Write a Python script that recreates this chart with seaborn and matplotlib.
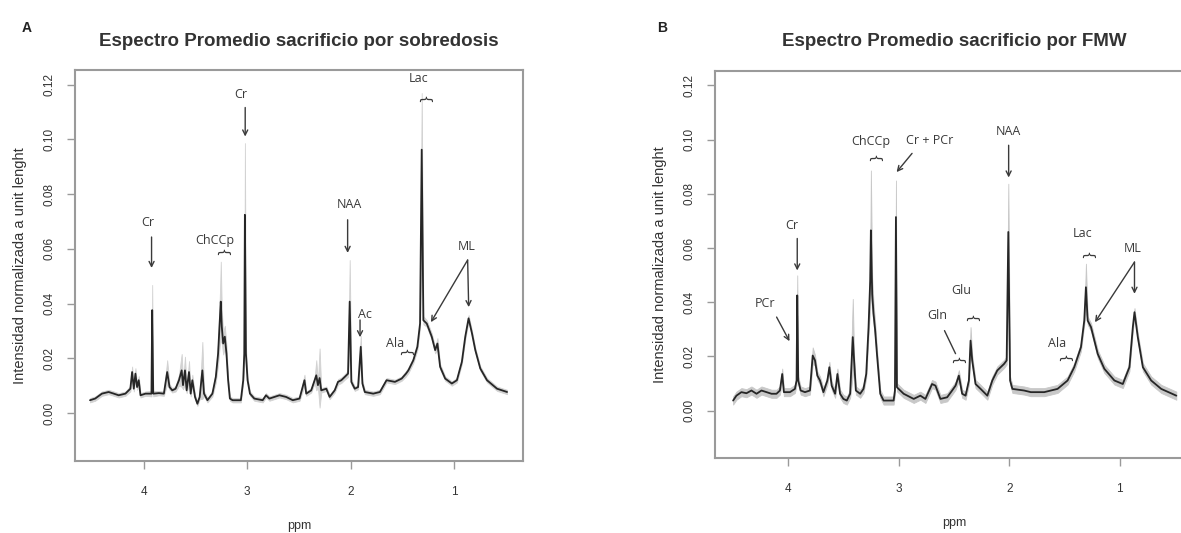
import numpy as np
import pandas as pd
import matplotlib
matplotlib.use("Agg")
import matplotlib.pyplot as plt
import seaborn as sns

sns.set_theme(style="white")
plt.rcParams["font.family"] = ["Liberation Sans", "DejaVu Sans"]

# ---- Panel A: mean spectrum, overdose sacrifice ----
ppm_a = [4.52, 4.47, 4.405, 4.34, 4.29, 4.243, 4.178, 4.13, 4.113, 4.097,
         4.081, 4.065, 4.049, 4.032, 3.984, 3.926, 3.919, 3.909, 3.854, 3.806,
         3.774, 3.751, 3.725, 3.693, 3.66, 3.634, 3.621, 3.602, 3.586, 3.563,
         3.547, 3.531, 3.505, 3.482, 3.46, 3.434, 3.418, 3.385, 3.337, 3.304,
         3.282, 3.262, 3.256, 3.246, 3.233, 3.217, 3.201, 3.185, 3.168, 3.142,
         3.062, 3.039, 3.029, 3.023, 3.013, 2.997, 2.974, 2.932, 2.851, 2.819,
         2.786, 2.689, 2.625, 2.56, 2.495, 2.447, 2.430, 2.382, 2.349, 2.333,
         2.317, 2.301, 2.285, 2.236, 2.204, 2.155, 2.123, 2.091, 2.058, 2.026,
         2.010, 1.994, 1.961, 1.929, 1.903, 1.887, 1.864, 1.783, 1.718, 1.654,
         1.573, 1.508, 1.466, 1.443, 1.395, 1.356, 1.330, 1.314, 1.298, 1.265,
         1.217, 1.184, 1.162, 1.136, 1.087, 1.023, 0.974, 0.926, 0.893, 0.861,
         0.828, 0.796, 0.748, 0.683, 0.586, 0.489]
mean_a = [.0047, .0053, .0071, .0077, .0071, .0065, .0071, .0089, .0150, .0089,
          .0144, .0095, .0120, .0065, .0071, .0071, .0376, .0071, .0073, .0071,
          .0150, .0095, .0083, .0089, .0120, .0156, .0102, .0156, .0083, .0150,
          .0071, .0120, .0059, .0034, .0059, .0156, .0071, .0047, .0071, .0132,
          .0217, .0364, .0407, .0315, .0254, .0279, .0217, .0120, .0053, .0047,
          .0047, .0120, .0217, .0724, .0217, .0120, .0071, .0053, .0047, .0065,
          .0053, .0065, .0059, .0047, .0053, .0120, .0071, .0083, .0120, .0138,
          .0102, .0128, .0083, .0089, .0059, .0083, .0114, .0120, .0132, .0144,
          .0407, .0114, .0089, .0095, .0242, .0108, .0077, .0071, .0077, .0120,
          .0114, .0126, .0144, .0156, .0193, .0242, .0327, .0962, .0339, .0327,
          .0279, .0230, .0254, .0169, .0126, .0108, .0120, .0187, .0279, .0346,
          .0291, .0230, .0163, .0120, .0089, .0077]
spread_a = [.0008, .0008, .0008, .0008, .0008, .0008, .0008, .0010, .0020, .0010,
            .0020, .0010, .0015, .0008, .0008, .0010, .0092, .0010, .0008, .0008,
            .0043, .0010, .0008, .0010, .0020, .0060, .0015, .0050, .0010, .0040,
            .0010, .0020, .0008, .0008, .0008, .0104, .0010, .0008, .0010, .0020,
            .0040, .0100, .0146, .0060, .0040, .0040, .0030, .0010, .0008, .0008,
            .0008, .0010, .0030, .0262, .0030, .0010, .0008, .0008, .0008, .0008,
            .0008, .0008, .0008, .0008, .0008, .0020, .0008, .0008, .0010, .0055,
            .0010, .0108, .0008, .0008, .0008, .0008, .0010, .0010, .0010, .0012,
            .0152, .0010, .0008, .0008, .0040, .0010, .0008, .0008, .0008, .0008,
            .0008, .0008, .0010, .0010, .0010, .0012, .0015, .0207, .0015, .0012,
            .0012, .0012, .0020, .0010, .0008, .0008, .0008, .0008, .0010, .0012,
            .0010, .0008, .0008, .0008, .0008, .0008]

# ---- Panel B: mean spectrum, FMW sacrifice ----
ppm_b = [4.501, 4.471, 4.426, 4.380, 4.335, 4.289, 4.244, 4.198, 4.153, 4.108,
         4.077, 4.056, 4.041, 3.986, 3.941, 3.926, 3.920, 3.911, 3.889, 3.850,
         3.805, 3.780, 3.759, 3.738, 3.714, 3.683, 3.647, 3.629, 3.608, 3.577,
         3.556, 3.532, 3.502, 3.471, 3.441, 3.417, 3.405, 3.389, 3.350, 3.320,
         3.295, 3.274, 3.259, 3.253, 3.241, 3.229, 3.215, 3.198, 3.168, 3.138,
         3.047, 3.035, 3.026, 3.017, 3.002, 2.956, 2.865, 2.805, 2.759, 2.699,
         2.668, 2.623, 2.562, 2.517, 2.486, 2.456, 2.426, 2.395, 2.365, 2.350,
         2.335, 2.305, 2.259, 2.198, 2.153, 2.108, 2.047, 2.023, 2.008, 1.992,
         1.971, 1.865, 1.804, 1.683, 1.562, 1.471, 1.411, 1.350, 1.320, 1.305,
         1.289, 1.259, 1.198, 1.138, 1.047, 0.971, 0.911, 0.880, 0.865, 0.835,
         0.789, 0.714, 0.623, 0.486]
mean_b = [.0037, .0055, .0068, .0064, .0074, .0062, .0074, .0068, .0062, .0062,
          .0074, .0135, .0068, .0068, .0080, .0111, .0425, .0111, .0074, .0068,
          .0074, .0203, .0185, .0129, .0111, .0068, .0111, .0160, .0092, .0062,
          .0135, .0062, .0043, .0037, .0062, .0271, .0185, .0074, .0062, .0080,
          .0135, .0308, .0480, .0665, .0430, .0357, .0300, .0209, .0062, .0037,
          .0037, .0074, .0714, .0086, .0080, .0062, .0043, .0055, .0043, .0098,
          .0092, .0043, .0049, .0074, .0092, .0129, .0062, .0055, .0111, .0258,
          .0185, .0098, .0080, .0055, .0111, .0148, .0172, .0185, .0659, .0111,
          .0080, .0074, .0068, .0068, .0080, .0111, .0160, .0234, .0332, .0455,
          .0332, .0308, .0209, .0154, .0111, .0098, .0160, .0308, .0363, .0271,
          .0160, .0111, .0080, .0055]
spread_b = [.0015, .0015, .0015, .0015, .0015, .0015, .0015, .0015, .0015, .0015,
            .0015, .0020, .0015, .0015, .0015, .0015, .0074, .0015, .0015, .0015,
            .0015, .0030, .0020, .0015, .0015, .0015, .0015, .0020, .0015, .0015,
            .0020, .0015, .0015, .0015, .0015, .0141, .0020, .0015, .0015, .0015,
            .0015, .0030, .0100, .0221, .0060, .0040, .0030, .0020, .0015, .0015,
            .0015, .0015, .0135, .0015, .0015, .0015, .0015, .0015, .0015, .0015,
            .0015, .0015, .0015, .0015, .0015, .0020, .0015, .0015, .0015, .0050,
            .0020, .0015, .0015, .0015, .0015, .0015, .0015, .0015, .0178, .0015,
            .0015, .0015, .0015, .0015, .0015, .0015, .0015, .0015, .0015, .0087,
            .0015, .0015, .0015, .0015, .0015, .0015, .0015, .0015, .0015, .0015,
            .0015, .0015, .0015, .0015]

x_ticks = [4, 3, 2, 1]
y_ticks = [0.00, 0.02, 0.04, 0.06, 0.08, 0.10, 0.12]

# metabolite labels, arrows and braces (ppm, intensity)
labels_a = [("Cr", 3.96, 0.0695), ("ChCCp", 3.31, 0.0629), ("Cr", 3.06, 0.1163),
            ("NAA", 2.01, 0.0760), ("Ac", 1.86, 0.0361), ("Ala", 1.57, 0.0255),
            ("Lac", 1.34, 0.1222), ("ML", 0.876, 0.0610)]
arrows_a = [((3.925, 0.0643), (3.925, 0.0530)), ((3.02, 0.1116), (3.02, 0.1010)),
            ((2.03, 0.0706), (2.03, 0.0585)), ((1.91, 0.0340), (1.91, 0.0277)),
            ((0.87, 0.0559), (1.225, 0.0332)), ((0.87, 0.0559), (0.86, 0.0387))]
lines_a = []
braces_a = [(3.25, 0.0585), (1.48, 0.0222), (1.30, 0.1145)]

labels_b = [("PCr", 4.21, 0.0395), ("Cr", 3.97, 0.0683), ("ChCCp", 3.25, 0.0994),
            ("Cr + PCr", 2.72, 0.0997), ("NAA", 2.007, 0.1031), ("Glu", 2.43, 0.0443),
            ("Gln", 2.65, 0.0351), ("Ala", 1.57, 0.0247), ("Lac", 1.335, 0.0654),
            ("ML", 0.88, 0.0599)]
arrows_b = [((4.107, 0.0345), (3.99, 0.0256)), ((3.92, 0.0635), (3.92, 0.0517)),
            ((2.88, 0.0949), (3.02, 0.0880)), ((2.005, 0.0979), (2.005, 0.0860)),
            ((0.865, 0.0548), (1.223, 0.0326)), ((0.865, 0.0548), (0.865, 0.0431))]
lines_b = [((2.586, 0.0295), (2.486, 0.0210))]
braces_b = [(3.23, 0.0930), (2.35, 0.0340), (2.477, 0.0185), (1.505, 0.0193),
            (1.305, 0.0572)]

W, H = 1181, 533
fig = plt.figure(figsize=(W / 100, H / 100), dpi=100)
ax_a = fig.add_axes([75 / W, 72 / H, 448 / W, 391 / H])
ax_b = fig.add_axes([715 / W, 75 / H, 478 / W, 387 / H])

ink = "#262626"
frame = "#9a9a9a"
note = "#3a3a3a"


def draw_panel(ax, ppm, mean, spread, band_color, labels, arrows, lines, braces):
    df = pd.DataFrame({"ppm": ppm, "mean": mean, "spread": spread})
    df["lo"] = df["mean"] - df["spread"]
    df["hi"] = df["mean"] + df["spread"]
    ax.fill_between(df["ppm"], df["lo"], df["hi"], color=band_color, lw=0.6,
                    edgecolor=band_color, zorder=1)
    sns.lineplot(data=df, x="ppm", y="mean", ax=ax, color=ink, lw=1.3,
                 sort=False, zorder=2)
    ax.set_xlim(4.665, 0.335)
    ax.set_ylim(-0.0175, 0.1253)
    ax.set_xticks(x_ticks)
    ax.set_xticklabels([str(t) for t in x_ticks])
    ax.set_yticks(y_ticks)
    ax.set_yticklabels([f"{t:.2f}" for t in y_ticks], rotation=90, va="center")
    ax.set_xlabel("ppm", fontsize=9, color="#333333", labelpad=16)
    ax.set_ylabel("Intensidad normalizada a unit lenght", fontsize=10.5,
                  color="#333333", labelpad=12)
    ax.tick_params(axis="both", which="both", direction="out", length=6,
                   width=1.0, color=frame, labelsize=8.5, labelcolor="#333333",
                   bottom=True, left=True)
    ax.tick_params(axis="x", pad=12)
    ax.tick_params(axis="y", pad=8)
    for sp in ax.spines.values():
        sp.set_color(frame)
        sp.set_linewidth(1.5)
    ax.grid(False)

    for text, x, y in labels:
        ax.text(x, y, text, ha="center", va="center", fontsize=9,
                color=note, family=["Open Sans", "DejaVu Sans"], zorder=4)
    for (x0, y0), (x1, y1) in arrows:
        ax.annotate("", xy=(x1, y1), xytext=(x0, y0),
                    arrowprops=dict(arrowstyle="->", color=note, lw=1.0,
                                    mutation_scale=9, shrinkA=0, shrinkB=0),
                    zorder=4)
    for (x0, y0), (x1, y1) in lines:
        ax.plot([x0, x1], [y0, y1], color=note, lw=1.0, zorder=4)
    for x, y in braces:
        ax.text(x, y, "{", rotation=-90, ha="center", va="center", fontsize=10,
                color=note, family=["DejaVu Sans"], zorder=4)


draw_panel(ax_a, ppm_a, mean_a, spread_a, "#d2d2d2", labels_a, arrows_a, lines_a, braces_a)
draw_panel(ax_b, ppm_b, mean_b, spread_b, "#c8c8c8", labels_b, arrows_b, lines_b, braces_b)

fig.text(299 / W, 1 - 41 / H, "Espectro Promedio sacrificio por sobredosis",
         ha="center", va="center", fontsize=13.5, fontweight="bold", color="#333333")
fig.text(954 / W, 1 - 41 / H, "Espectro Promedio sacrificio por FMW",
         ha="center", va="center", fontsize=13.5, fontweight="bold", color="#333333")
fig.text(27 / W, 1 - 28 / H, "A", ha="center", va="center", fontsize=10,
         fontweight="bold", color="#222222")
fig.text(662 / W, 1 - 28 / H, "B", ha="center", va="center", fontsize=10,
         fontweight="bold", color="#222222")

fig.savefig("out.png", dpi=100, facecolor="white")
